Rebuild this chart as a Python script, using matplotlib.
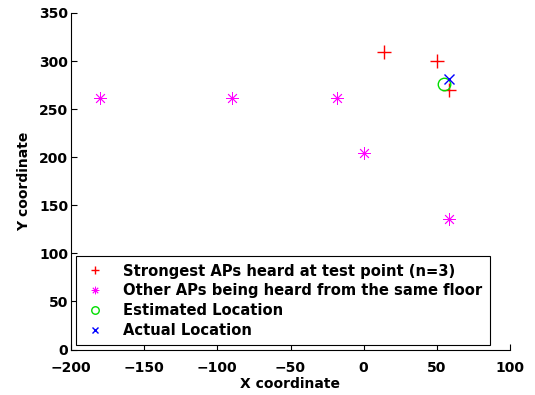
import matplotlib
matplotlib.use("Agg")
import matplotlib.pyplot as plt

# data
strong_x = [14, 50, 58]
strong_y = [309, 300, 270]
other_x = [-180, -90, -18, 0, 58]
other_y = [262, 262, 262, 204, 136]
est_x = [55]
est_y = [276]
act_x = [58]
act_y = [281]

xticks = [-200, -150, -100, -50, 0, 50, 100]
yticks = [0, 50, 100, 150, 200, 250, 300, 350]

plt.rcParams["font.family"] = ["DejaVu Sans"]
plt.rcParams["font.weight"] = "bold"
plt.rcParams["font.size"] = 10

fig = plt.figure(figsize=(5.35, 3.95), dpi=100)
ax = fig.add_axes([71 / 535, 1 - 349.5 / 395, 439 / 535, 336.5 / 395])

ax.plot(strong_x, strong_y, "+", color="red", ms=10, mew=1,
        label="Strongest APs heard at test point (n=3)")
ax.plot(other_x, other_y, marker=(8, 2, 0), ls="none", color="magenta", ms=9, mew=0.6,
        label="Other APs being heard from the same floor")
ax.plot(est_x, est_y, "o", color="#00dd00", ms=9, mfc="none", mew=1,
        label="Estimated Location")
ax.plot(act_x, act_y, "x", color="blue", ms=7, mew=1,
        label="Actual Location")

ax.set_xlim(-200, 100)
ax.set_ylim(0, 350)
ax.set_xticks(xticks)
ax.set_yticks(yticks)
ax.set_xticklabels([str(t).replace("-", "\u2212") for t in xticks], fontweight="bold")
ax.set_yticklabels([str(t) for t in yticks], fontweight="bold")
ax.tick_params(direction="in", length=4, width=0.8)
ax.tick_params(axis="x", pad=8.5)
ax.tick_params(axis="y", pad=2)
ax.spines["top"].set_visible(False)
ax.spines["right"].set_visible(False)

ax.set_xlabel("X coordinate", fontweight="bold", labelpad=1)
ax.set_ylabel("Y coordinate", fontweight="bold", labelpad=6)

leg = ax.legend(loc="lower left", bbox_to_anchor=(0.012, 0.013), borderaxespad=0,
                fancybox=False, edgecolor="black", framealpha=1, borderpad=0.5,
                labelspacing=0.32, handletextpad=1.1, handlelength=1.6,
                markerscale=0.6, prop={"weight": "bold", "size": 10.6})
leg.get_frame().set_linewidth(0.8)

fig.savefig("out.png", dpi=100)
